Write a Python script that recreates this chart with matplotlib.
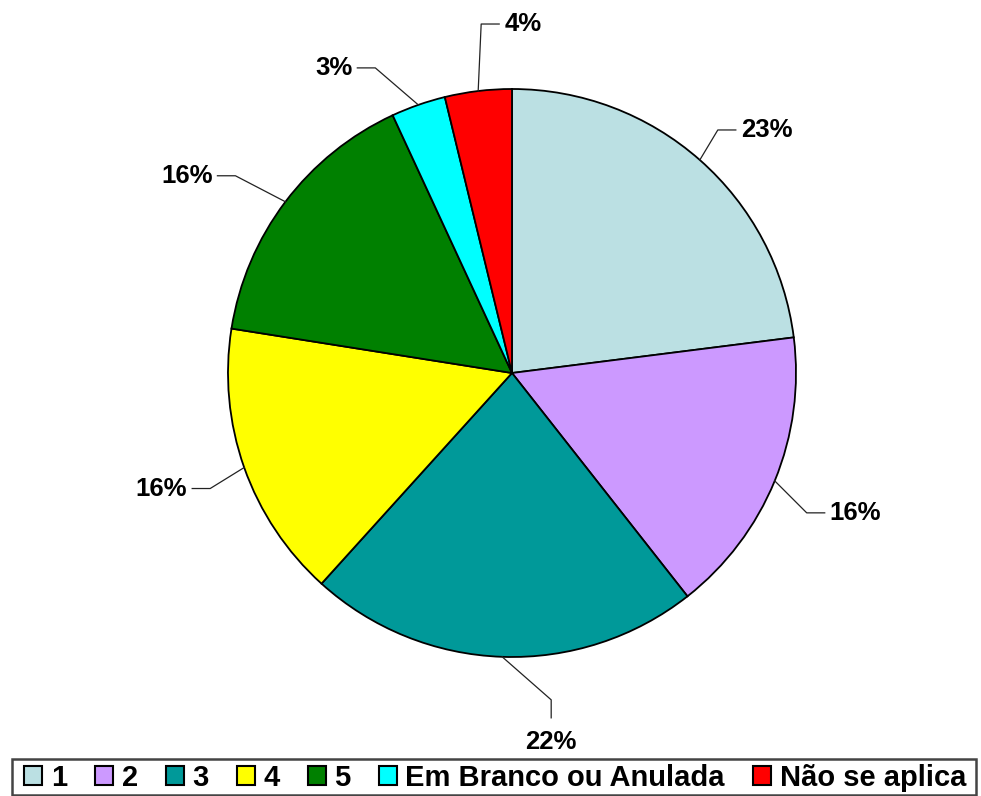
import numpy as np
import matplotlib
matplotlib.use("Agg")
import matplotlib.pyplot as plt
from matplotlib.patches import Rectangle

# slice data (percent)
labels = ["1", "2", "3", "4", "5", "Em Branco ou Anulada", "Não se aplica"]
values = [23.0, 16.4, 22.3, 15.8, 15.6, 3.1, 3.8]
pct_labels = ["23%", "16%", "22%", "16%", "16%", "3%", "4%"]
colors = ["#BBE0E3", "#CC99FF", "#009999", "#FFFF00", "#008000", "#00FFFF", "#FF0000"]

# elbow offset of each leader line from its attach point (pixels, y up)
elbow_dx = [18, 32, 49, -34, -50, -43, 3]
elbow_dy = [30, -32, -43, -21, 26, 37, 67]

plt.rcParams['font.family'] = ['Liberation Sans', 'DejaVu Sans']

W, H = 981, 796
cx, cy, R = 512, 373, 284  # pie centre and radius in pixels

fig = plt.figure(figsize=(W / 100, H / 100), dpi=100)
ax = fig.add_axes([0, 0, 1, 1])

wedges, _ = ax.pie(values, colors=colors, startangle=90, counterclock=False,
                   radius=1.0, wedgeprops=dict(edgecolor='black', linewidth=1.3))
ax.set_xlim(-cx / R, (W - cx) / R)
ax.set_ylim(-(H - cy) / R, cy / R)
ax.set_aspect('equal')
ax.axis('off')

# leader lines with elbow, then label
total = sum(values)
start = 90.0
for i, v in enumerate(values):
    span = 360.0 * v / total
    mid = np.deg2rad(start - span / 2)
    start -= span
    x0, y0 = np.cos(mid), np.sin(mid)
    x1, y1 = x0 + elbow_dx[i] / R, y0 + elbow_dy[i] / R
    if abs(x0) < 0.15 and y0 < 0:
        # bottom label: vertical tail
        x2, y2 = x1, y1 - 18 / R
        ax.plot([x0, x1, x2], [y0, y1, y2], color='#222222', lw=0.9)
        ax.text(x2, y2 - 12 / R, pct_labels[i], ha='center', va='top',
                fontsize=18.5, fontweight='bold')
    else:
        sgn = 1 if elbow_dx[i] >= 0 else -1
        x2, y2 = x1 + sgn * 18 / R, y1
        ax.plot([x0, x1, x2], [y0, y1, y2], color='#222222', lw=0.9)
        ax.text(x2 + sgn * 5 / R, y2, pct_labels[i], ha='left' if sgn > 0 else 'right',
                va='center', fontsize=18.5, fontweight='bold')

# legend entries spread across the bottom, framed by a separate box
leg = fig.legend(wedges, labels, loc='center left',
                 bbox_to_anchor=(24 / W, 2 / H, 942 / W, 32 / H), mode='expand',
                 ncol=7, frameon=False,
                 prop=dict(weight='bold', size=21), handlelength=0.62, handleheight=0.62,
                 handletextpad=0.3, columnspacing=0.9, borderpad=0.0, borderaxespad=0)
for h in leg.legend_handles:
    h.set_linewidth(1.5)
    h.set_edgecolor('black')
fig.patches.append(Rectangle((12 / W, 1 / H), 964 / W, 36 / H, transform=fig.transFigure,
                             fill=False, edgecolor='#444444', linewidth=1.8))

fig.savefig("out.png", dpi=100)
